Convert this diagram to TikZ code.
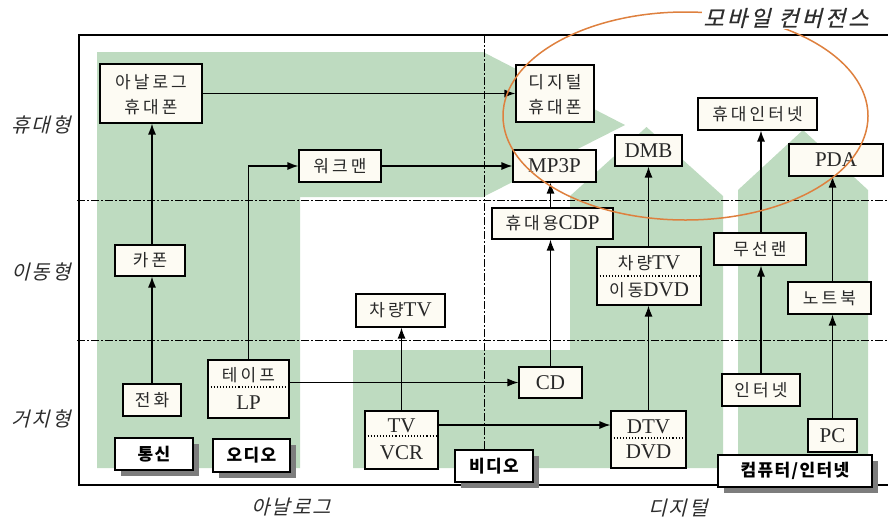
\documentclass[tikz,border=0pt]{standalone}
\usepackage{fontspec}
\setmainfont{Liberation Serif}
\newfontfamily\kr{Noto Sans CJK KR}[LetterSpace=18]
\newfontfamily\krlab{Noto Sans CJK KR}[FakeSlant=0.25,LetterSpace=10]
\newfontfamily\krtop{Noto Sans CJK KR}[FakeSlant=0.25,LetterSpace=14,FakeBold=0.6]
\newfontfamily\krcat{Noto Sans CJK KR}[LetterSpace=8]
\usetikzlibrary{arrows.meta,calc,shadows}
\definecolor{grn}{RGB}{190,219,192}
\definecolor{boxfill}{RGB}{253,251,243}
\definecolor{txt}{RGB}{40,40,40}
\definecolor{orng}{RGB}{222,128,62}
\definecolor{shd}{RGB}{125,125,125}
\definecolor{labc}{RGB}{45,45,45}
\newcommand\K[1]{{\kr\fontsize{17}{19}\selectfont #1}}
\tikzset{
 bx/.style n args={2}{draw=black, line width=1.1pt, fill=boxfill, minimum width=#1, minimum height=#2, inner sep=0pt, text=txt, font=\fontsize{21}{24}\selectfont},
 kt/.style={inner sep=0pt, text=txt, font=\fontsize{21}{24}\selectfont},
 cat/.style n args={2}{draw=black, line width=1.1pt, fill=white, minimum width=#1, minimum height=#2, inner sep=0pt, general shadow={fill=shd, shadow xshift=6pt, shadow yshift=-6pt}, font=\krcat\bfseries\fontsize{17}{20}\selectfont},
 sepl/.style={dotted, line width=1.1pt},
 arr/.style={-{Latex[length=11pt,width=8pt]}, line width=1.2pt},
 dd/.style={line width=1pt, dash pattern=on 8pt off 2pt on 2pt off 2pt},
 frm/.style={line width=1.2pt},
 lab/.style={font=\krlab\fontsize{20}{22}\selectfont, text=labc, inner sep=0pt},
}
\begin{document}
\begin{tikzpicture}[x=1pt,y=-1pt]
\useasboundingbox (0,0) rectangle (888,523);
% green regions
\fill[grn] (97,52) -- (483,52) -- (625,125) -- (483,197) -- (300,197) -- (300,468) -- (97,468) -- cycle;
\fill[grn] (353,350) -- (570,350) -- (570,196) -- (646.5,127) -- (723,196) -- (723,468) -- (353,468) -- cycle;
\fill[grn] (738,190) -- (803,130) -- (868,190) -- (868,468) -- (738,468) -- cycle;
% frame and guide lines
\draw[frm] (888,35) -- (79,35) -- (79,485) -- (888,485);
\draw[dd] (77,200) -- (888,200);
\draw[dd] (77,340) -- (888,340);
\coordinate (vtop) at (484,35);
% row / column labels
\node[lab] (r1) at (41,125) {휴대형};
\node[lab] (r2) at (41,272) {이동형};
\node[lab] (r3) at (41,419) {거치형};
\node[lab] (c1) at (291,507) {아날로그};
\node[lab] (c2) at (678,508) {디지털};
% analog boxes
\node[bx={102pt}{59pt}] (aphone) at (151,93.5) {};
\node[kt] (aphone1) at (151,82) {\K{아날로그}};
\node[kt] (aphone2) at (151,107) {\K{휴대폰}};
\node[bx={82pt}{32pt}] (walkman) at (340,166) {\K{워크맨}};
\node[bx={70pt}{31pt}] (carphone) at (150,260.5) {\K{카폰}};
\node[bx={58pt}{32pt}] (phone) at (152,400) {\K{전화}};
\node[bx={81pt}{58pt}] (tape) at (248.5,389) {};
\node[kt] (tape1) at (248.5,375) {\K{테이프}};
\node[kt] (tape2) at (248.5,403) {LP};
\draw[sepl] (tape.west |- 0,387) -- (tape.east |- 0,387);
\node[cat={78pt}{32pt}] (tongsin) at (154,454) {통신};
\node[cat={77pt}{33pt}] (audio) at (251.5,455.5) {오디오};
\node[bx={89pt}{33pt}] (cartva) at (400.5,310.5) {\K{차량}TV};
\node[bx={73pt}{58pt}] (tvvcr) at (401.5,440) {};
\node[kt] (tvvcr1) at (401.5,426) {TV};
\node[kt] (tvvcr2) at (401.5,453) {VCR};
\draw[sepl] (tvvcr.west |- 0,436) -- (tvvcr.east |- 0,436);
% digital boxes
\node[bx={78pt}{57pt}] (dphone) at (555,93.5) {};
\node[kt] (dphone1) at (555,82) {\K{디지털}};
\node[kt] (dphone2) at (555,107) {\K{휴대폰}};
\node[bx={83pt}{32pt}] (mp3p) at (554.5,166) {MP3P};
\node[bx={67pt}{31pt}] (dmb) at (648.5,150.5) {DMB};
\node[bx={119pt}{32pt}] (mi) at (757.5,114) {\K{휴대인터넷}};
\node[bx={94pt}{32pt}] (pda) at (836,160) {PDA};
\node[bx={121pt}{31pt}] (cdp) at (552.5,223.5) {\K{휴대용}CDP};
\node[bx={92pt}{32pt}] (wlan) at (760,249) {\K{무선랜}};
\node[bx={104pt}{58pt}] (cartvd) at (649,276) {};
\node[kt] (cartvd1) at (649,263) {\K{차량}TV};
\node[kt] (cartvd2) at (649,290) {\K{이동}DVD};
\draw[sepl] (cartvd.west |- 0,276) -- (cartvd.east |- 0,276);
\node[bx={83pt}{32pt}] (notebook) at (829.5,298) {\K{노트북}};
\node[bx={63pt}{31pt}] (cd) at (550.5,382.5) {CD};
\node[bx={78pt}{32pt}] (internet) at (761,390) {\K{인터넷}};
\node[bx={75pt}{57pt}] (dtvdvd) at (648.5,439.5) {};
\node[kt] (dtvdvd1) at (648.5,427) {DTV};
\node[kt] (dtvdvd2) at (648.5,452) {DVD};
\draw[sepl] (dtvdvd.west |- 0,438) -- (dtvdvd.east |- 0,438);
\node[bx={49pt}{33pt}] (pc) at (832.5,435.5) {PC};
\node[cat={78pt}{32pt}] (video) at (494,466) {비디오};
\node[cat={154pt}{32pt}] (comp) at (795,471) {컴퓨터/인터넷};
\draw[dd] (vtop) -- (vtop |- video.north);
% connectors
\draw[arr] (phone.north) -- (phone.north |- carphone.south);
\draw[arr] (phone.north |- carphone.north) -- (phone.north |- aphone.south);
\draw[arr] (aphone.east) -- (aphone.east -| dphone.west);
\draw[arr] (tape.north) |- (walkman.west);
\draw[arr] (walkman.east) -- (mp3p.west);
\draw[arr] (tape.east |- cd.west) -- (cd.west);
\draw[arr] (tvvcr.north) -- (tvvcr.north |- cartva.south);
\coordinate (tvout) at ($(tvvcr.east)+(0,-15)$);
\draw[arr] (tvout) -- (tvout -| dtvdvd.west);
\draw[arr] (cd.north) -- (cd.north |- cdp.south);
\draw[arr] (cd.north |- cdp.north) -- (cd.north |- mp3p.south);
\draw[arr] (dtvdvd.north) -- (dtvdvd.north |- cartvd.south);
\draw[arr] (dtvdvd.north |- cartvd.north) -- (dtvdvd.north |- dmb.south);
\draw[arr] (internet.north) -- (internet.north |- wlan.south);
\draw[arr] (internet.north |- wlan.north) -- (internet.north |- mi.south);
\draw[arr] (pc.north) -- (pc.north |- notebook.south);
\draw[arr] (pc.north |- notebook.north) -- (pc.north |- pda.south);
% convergence ellipse and title
\draw[orng, line width=1.5pt] (685.5,116) ellipse [x radius=182.5, y radius=104];
\node[fill=white, inner sep=1.5pt, font=\krtop\fontsize{22}{24}\selectfont, text=labc] (mc) at (786,18) {모바일 컨버전스};
\end{tikzpicture}
\end{document}
